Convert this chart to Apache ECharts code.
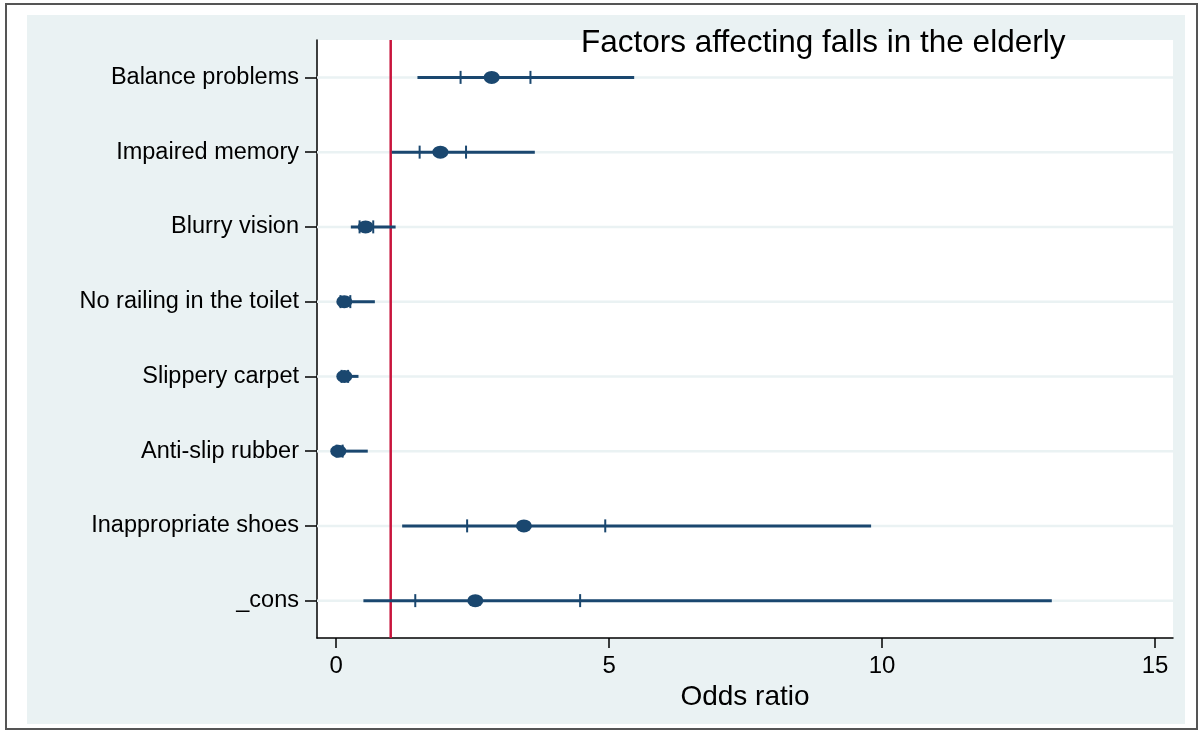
<!DOCTYPE html>
<html>
<head>
<meta charset="utf-8">
<script src="https://cdn.jsdelivr.net/npm/echarts@6/dist/echarts.min.js"></script>
<style>
html,body{margin:0;padding:0;background:#fff;}
#chart{width:1200px;height:731px;}
</style>
</head>
<body>
<div id="chart"></div>
<script>
const categories = ['Balance problems','Impaired memory','Blurry vision','No railing in the toilet','Slippery carpet','Anti-slip rubber','Inappropriate shoes','_cons'];
const estimate   = [2.85, 1.91, 0.54, 0.15, 0.15, 0.04, 3.44, 2.55];
const ciLow      = [1.49, 1.02, 0.27, 0.03, 0.05, 0.003, 1.21, 0.50];
const ciHigh     = [5.46, 3.64, 1.09, 0.71, 0.41, 0.58, 9.80, 13.11];
const innerLow   = [2.28, 1.53, 0.43, 0.08, 0.10, 0.01, 2.40, 1.45];
const innerHigh  = [3.56, 2.38, 0.68, 0.26, 0.22, 0.12, 4.93, 4.47];
const xTicks     = [0, 5, 10, 15];
const refValue   = 1;
const titleText  = 'Factors affecting falls in the elderly';
const xTitle     = 'Odds ratio';

const navy = '#1a476f';
const red = '#c8143c';
const pale = '#eaf2f3';
const font = 'Liberation Sans, Arial, Helvetica, sans-serif';

const ciData = categories.map((c, i) => [i, ciLow[i], innerLow[i], estimate[i], innerHigh[i], ciHigh[i]]);
const estData = categories.map((c, i) => [estimate[i], i]);

const chart = echarts.init(document.getElementById('chart'), null, {renderer: 'canvas'});
chart.setOption({
  animation: false,
  backgroundColor: '#ffffff',
  graphic: [
    {type: 'rect', z: -20, shape: {x: 6, y: 4, width: 1191, height: 725}, style: {fill: '#ffffff', stroke: '#555555', lineWidth: 2}},
    {type: 'rect', z: -10, shape: {x: 27, y: 15, width: 1158, height: 709}, style: {fill: pale}}
  ],
  title: {
    text: titleText, left: 576, top: 22,
    textStyle: {fontFamily: font, fontSize: 31.5, fontWeight: 'normal', color: '#000'}
  },
  grid: {left: 317, right: 27, top: 40, bottom: 93, show: true, backgroundColor: '#ffffff', borderWidth: 0, containLabel: false},
  xAxis: {
    type: 'value', min: -0.35, max: 15.33,
    name: xTitle, nameLocation: 'middle', nameGap: 40,
    nameTextStyle: {fontFamily: font, fontSize: 28, color: '#000'},
    axisLine: {show: true, onZero: false, lineStyle: {color: '#000', width: 1.5}},
    axisTick: {show: true, length: 10, lineStyle: {color: '#000', width: 1.5}, customValues: xTicks},
    axisLabel: {fontFamily: font, fontSize: 24, color: '#000', margin: 16, customValues: xTicks},
    splitLine: {show: false}
  },
  yAxis: {
    type: 'category', data: categories, inverse: true,
    axisLine: {show: true, onZero: false, lineStyle: {color: '#000', width: 1.5}},
    axisTick: {show: true, alignWithLabel: true, length: 12, lineStyle: {color: '#000', width: 1.5}},
    axisLabel: {fontFamily: font, fontSize: 23.5, color: '#000', margin: 18, padding: [4, 0, 0, 0]},
    splitLine: {show: false}
  },
  series: [
    {
      type: 'custom', z: 1, silent: true,
      data: categories.map((c, i) => [0, i]),
      encode: {x: 0, y: 1},
      renderItem: function (params, api) {
        const p = api.coord([0, api.value(1)]);
        const cs = params.coordSys;
        return {type: 'line', shape: {x1: cs.x, y1: p[1], x2: cs.x + cs.width, y2: p[1]}, style: {stroke: pale, lineWidth: 2.5}};
      }
    },
    {
      type: 'custom', z: 2, silent: true,
      data: [[refValue, 0]],
      encode: {x: 0, y: 1},
      renderItem: function (params, api) {
        const p = api.coord([api.value(0), 0]);
        const cs = params.coordSys;
        return {type: 'line', shape: {x1: p[0], y1: cs.y, x2: p[0], y2: cs.y + cs.height}, style: {stroke: red, lineWidth: 2.5}};
      }
    },
    {
      type: 'custom', z: 3, silent: true,
      data: ciData,
      encode: {x: [1, 5], y: 0},
      renderItem: function (params, api) {
        const cat = api.value(0);
        const a = api.coord([api.value(1), cat]);
        const b = api.coord([api.value(2), cat]);
        const d = api.coord([api.value(4), cat]);
        const e = api.coord([api.value(5), cat]);
        const h = 6.5;
        return {
          type: 'group',
          children: [
            {type: 'line', shape: {x1: a[0], y1: a[1], x2: e[0], y2: e[1]}, style: {stroke: navy, lineWidth: 3}},
            {type: 'line', shape: {x1: b[0], y1: b[1] - h, x2: b[0], y2: b[1] + h}, style: {stroke: navy, lineWidth: 2}},
            {type: 'line', shape: {x1: d[0], y1: d[1] - h, x2: d[0], y2: d[1] + h}, style: {stroke: navy, lineWidth: 2}}
          ]
        };
      }
    },
    {
      type: 'scatter', z: 4, silent: true,
      data: estData,
      symbol: 'circle', symbolSize: [16, 13],
      itemStyle: {color: navy, opacity: 1}
    }
  ]
});
</script>
</body>
</html>
